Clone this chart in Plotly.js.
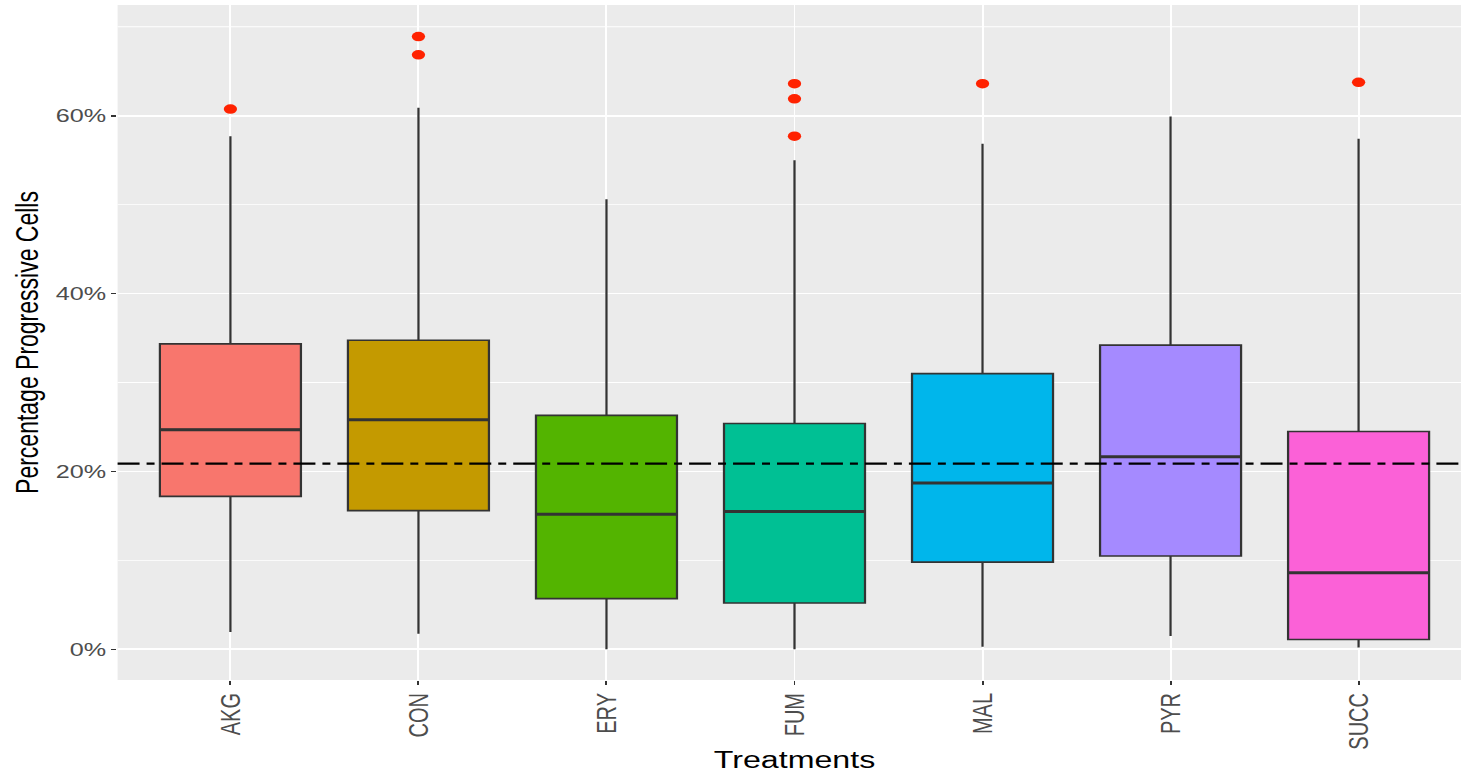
<!DOCTYPE html>
<html>
<head>
<meta charset="utf-8">
<script src="https://cdn.plot.ly/plotly-3.0.1.min.js"></script>
<style>
  html, body { margin: 0; padding: 0; background: #fff; overflow: hidden; width: 1461px; height: 773px; }
  #plot { width: 1051px; height: 773px; transform: scaleX(1.4); transform-origin: 0 0; }
</style>
</head>
<body>
<div id="plot"></div>
<script>
// Data (fractions of 1)
var categories = ['AKG', 'CON', 'ERY', 'FUM', 'MAL', 'PYR', 'SUCC'];
var lowerWhisker = [0.0195, 0.0176, 0.000, 0.000, 0.003, 0.015, 0.002];
var q1Values     = [0.172, 0.156, 0.057, 0.052, 0.098, 0.105, 0.011];
var medianValues = [0.247, 0.258, 0.152, 0.155, 0.187, 0.2165, 0.086];
var q3Values     = [0.3435, 0.3475, 0.263, 0.254, 0.310, 0.342, 0.245];
var upperWhisker = [0.577, 0.609, 0.506, 0.550, 0.5685, 0.599, 0.574];
var outlierCats   = ['AKG', 'CON', 'CON', 'FUM', 'FUM', 'FUM', 'MAL', 'SUCC'];
var outlierValues = [0.6075, 0.689, 0.6685, 0.636, 0.619, 0.577, 0.636, 0.6375];
var referenceLine = 0.2087;
var yTicks = [0, 0.2, 0.4, 0.6];
var boxColors = ['#F8766D', '#C49A00', '#53B400', '#00C094', '#00B6EB', '#A58AFF', '#FB61D7'];

var FONT = '"Liberation Sans", Arial, Helvetica, sans-serif';
var BOX_WIDTH = 0.75;
var traces = [];
categories.forEach(function (c, i) {
  traces.push({
    type: 'box',
    x: [c],
    q1: [q1Values[i]],
    median: [medianValues[i]],
    q3: [q3Values[i]],
    lowerfence: [lowerWhisker[i]],
    upperfence: [upperWhisker[i]],
    width: BOX_WIDTH,
    fillcolor: boxColors[i],
    line: { color: '#333333', width: 1.6 },
    whiskerwidth: 0,
    boxpoints: false,
    showlegend: false,
    hoverinfo: 'skip'
  });
});
traces.push({
  type: 'scatter',
  mode: 'markers',
  x: outlierCats,
  y: outlierValues,
  marker: { color: '#FF2200', size: 9.5, line: { width: 0 } },
  showlegend: false,
  hoverinfo: 'skip'
});

var shapes = [];
// thicker median bars like ggplot
categories.forEach(function (c, i) {
  shapes.push({
    type: 'line', xref: 'x', yref: 'y',
    x0: i - BOX_WIDTH / 2, x1: i + BOX_WIDTH / 2, y0: medianValues[i], y1: medianValues[i],
    line: { color: '#333333', width: 3 }, layer: 'above'
  });
});
shapes.push({
  type: 'line', xref: 'paper', yref: 'y',
  x0: 0, x1: 1, y0: referenceLine, y1: referenceLine,
  line: { color: '#000000', width: 2.3, dash: '15.7px,5px,5.7px,5px' },
  layer: 'above'
});

var layout = {
  width: 1051,
  height: 773,
  margin: { l: 84, r: 0, t: 5, b: 93 },
  paper_bgcolor: '#FFFFFF',
  plot_bgcolor: '#EBEBEB',
  boxmode: 'overlay',
  boxgap: 0.25,
  showlegend: false,
  font: { family: FONT, color: '#4D4D4D' },
  xaxis: {
    type: 'category',
    categoryorder: 'array',
    categoryarray: categories,
    range: [-0.6, 6.6],
    tickangle: -90,
    tickfont: { family: FONT, size: 20, color: '#4D4D4D' },
    ticks: 'outside', ticklen: 4, tickwidth: 1.4, tickcolor: '#333333',
    showgrid: true, gridcolor: '#FFFFFF', gridwidth: 1.4,
    zeroline: false, showline: false,
    title: { text: 'Treatments', font: { family: FONT, size: 23, color: '#000000' }, standoff: 7 }
  },
  yaxis: {
    range: [-0.0345, 0.7245],
    tickvals: yTicks,
    tickformat: '.0%',
    tickfont: { family: FONT, size: 18, color: '#4D4D4D' },
    ticks: 'outside', ticklen: 3.6, tickwidth: 1.6, tickcolor: '#333333',
    showgrid: true, gridcolor: '#FFFFFF', gridwidth: 1.8,
    minor: { dtick: 0.1, tick0: 0.1, showgrid: true, gridcolor: '#FFFFFF', gridwidth: 0.9, ticks: '' },
    zeroline: false, showline: false,
    title: { text: 'Percentage Progressive Cells', font: { family: FONT, size: 23, color: '#000000' }, standoff: 5 }
  },
  shapes: shapes
};

Plotly.newPlot('plot', traces, layout, { staticPlot: true, displayModeBar: false });
</script>
</body>
</html>
